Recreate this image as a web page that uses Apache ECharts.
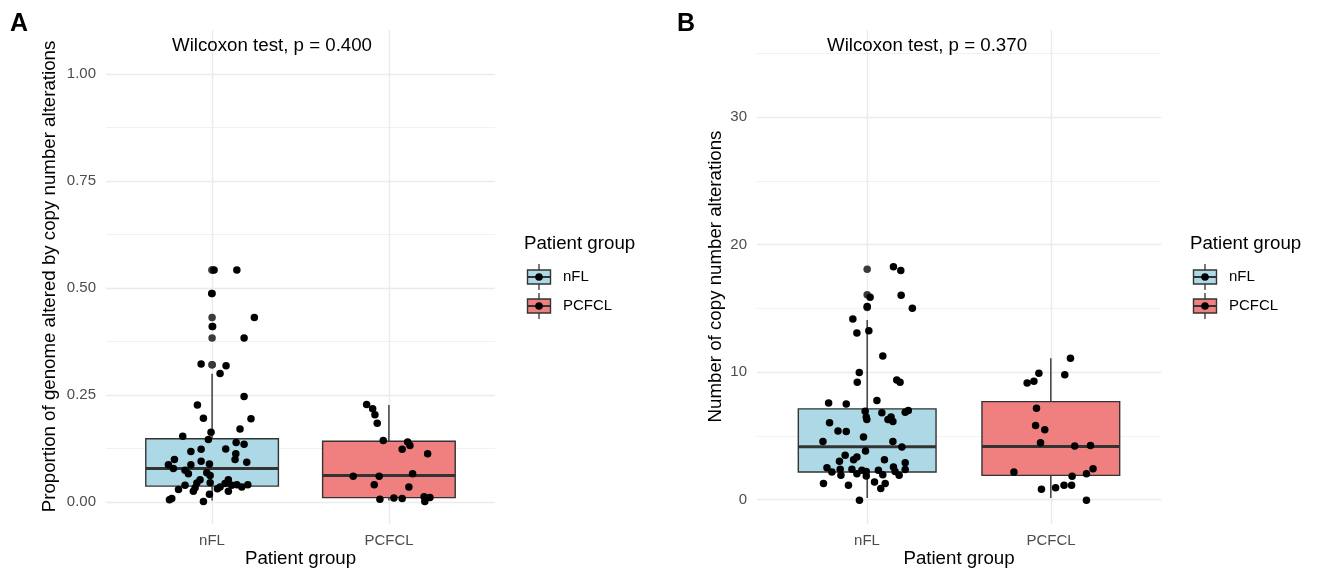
<!DOCTYPE html>
<html><head><meta charset="utf-8">
<script src="https://cdn.jsdelivr.net/npm/echarts@6/dist/echarts.min.js"></script>
<style>html,body{margin:0;padding:0;background:#fff}#c{width:1317px;height:573px}</style>
</head><body><div id="c"></div>
<script>
// ---------- data ----------
const categories = ['nFL', 'PCFCL'];
const groupColors = ['#ADD8E6', '#F08080'];

// Panel A: proportion of genome altered. Box stats: [lowWhisker, q1, median, q3, highWhisker]
const aNflBox = [0.0, 0.034, 0.075, 0.145, 0.297];
const aPcfclBox = [0.0, 0.007, 0.059, 0.139, 0.224];
const aNflOutliers = [0.54, 0.54, 0.485, 0.429, 0.408, 0.381, 0.318, 0.318];
const aPcfclOutliers = [];
const aNflJitter = [-0.166,-0.006,-0.021,0.158,0.136,0.181,0.077,-0.062,-0.120,0.134,0.130,0.196,-0.213,-0.062,-0.015,-0.120,-0.247,-0.219,-0.153,-0.134,-0.030,-0.011,-0.068,-0.086,-0.011,0.092,0.073,0.045,0.140,0.168,0.202,0.111,0.092,-0.153,-0.190,-0.106,-0.096,-0.015,-0.228,-0.241,-0.049,0.030,0.011,0.140,-0.002,0.239,0.003,0.181,-0.062,0.079,0.045,0.181,-0.083,-0.049,0.220];
const aNflY = [0.151,0.160,0.143,0.168,0.136,0.132,0.121,0.120,0.115,0.110,0.096,0.090,0.096,0.092,0.086,0.084,0.084,0.075,0.071,0.063,0.065,0.059,0.049,0.041,0.042,0.049,0.040,0.032,0.037,0.032,0.037,0.036,0.022,0.036,0.026,0.022,0.030,0.015,0.005,0.002,-0.002,0.028,0.540,0.540,0.485,0.429,0.408,0.381,0.320,0.316,0.298,0.244,0.224,0.193,0.192];
const aPcfclJitter = [-0.126,-0.092,-0.079,-0.066,-0.032,0.106,0.119,0.075,0.219,-0.202,-0.055,0.134,-0.083,0.113,-0.051,0.028,0.075,0.199,0.203,0.232];
const aPcfclY = [0.225,0.215,0.201,0.181,0.141,0.137,0.129,0.120,0.110,0.057,0.057,0.063,0.037,0.032,0.003,0.006,0.005,0.009,-0.002,0.007];
const aYTicks = [0, 0.25, 0.5, 0.75, 1.0];

// Panel B: number of copy number alterations
const bNflBox = [0, 2.05, 4.04, 7.02, 14.0];
const bPcfclBox = [0, 1.79, 4.06, 7.59, 11.0];
const bNflOutliers = [18, 16, 15];
const bPcfclOutliers = [];
const bNflJitter = [0.143,0.183,0.016,0.185,0.0,0.246,-0.078,-0.056,0.009,0.085,-0.043,-0.054,0.161,0.179,0.053,-0.210,-0.114,-0.011,-0.005,-0.002,0.080,0.113,0.140,0.130,0.207,0.224,-0.205,-0.159,-0.114,-0.241,-0.020,0.140,0.189,-0.009,-0.120,-0.074,-0.056,-0.151,0.094,0.207,-0.219,-0.192,-0.147,-0.143,-0.083,-0.056,-0.029,-0.005,-0.005,0.061,0.085,0.143,0.152,0.174,0.207,-0.238,-0.102,0.040,0.098,0.074,-0.042];
const bNflY = [18.2,17.9,15.8,15.96,15.07,14.94,14.08,12.98,13.16,11.18,9.87,9.11,9.29,9.11,7.67,7.47,7.41,6.84,6.37,6.18,6.71,6.18,6.03,6.37,6.76,6.89,5.92,5.27,5.24,4.46,4.80,4.46,4.01,3.70,3.36,3.02,3.23,2.89,3.02,2.78,2.39,2.05,2.26,1.79,2.26,1.92,2.18,2.10,1.74,2.18,1.84,2.45,2.10,1.79,2.24,1.14,1.00,1.27,1.14,0.75,-0.17];
const bPcfclJitter = [0.107,-0.065,0.076,-0.092,-0.129,-0.078,-0.083,-0.033,-0.056,0.130,0.216,-0.201,0.230,0.194,0.116,-0.051,0.026,0.072,0.113,0.194];
const bPcfclY = [11.0,9.82,9.71,9.19,9.06,7.07,5.71,5.37,4.35,4.09,4.14,2.05,2.31,1.92,1.71,0.69,0.82,1.00,1.00,-0.17];
const bYTicks = [0, 10, 20, 30];
const bYMinorTicks = [5, 15, 25, 35];

const testLabels = ['Wilcoxon test, p = 0.400', 'Wilcoxon test, p = 0.370'];
const testLabelPos = [[1.339, 1.065], [1.326, 35.57]];
const yTitles = ['Proportion of genome altered by copy number alterations', 'Number of copy number alterations'];
const xTitle = 'Patient group';
const legendTitle = 'Patient group';
const panelTags = ['A', 'B'];

// ---------- chart ----------
const FONT = 'Liberation Sans';
const GRID_COL = '#EBEBEB';
const BOX_LINE = '#333333';

function boxSeries(xi, yi, boxes) {
  return {
    type: 'custom', xAxisIndex: xi, yAxisIndex: yi, z: 2, silent: true,
    data: boxes.map((b, i) => [i + 1].concat(b)),
    renderItem: function (params, api) {
      const x = api.value(0);
      const lo = api.coord([x, api.value(1)]);
      const q1 = api.coord([x, api.value(2)]);
      const med = api.coord([x, api.value(3)]);
      const q3 = api.coord([x, api.value(4)]);
      const hi = api.coord([x, api.value(5)]);
      const l = api.coord([x - 0.375, api.value(2)])[0];
      const r = api.coord([x + 0.375, api.value(2)])[0];
      const ls = { stroke: BOX_LINE, lineWidth: 1.4 };
      return {
        type: 'group',
        children: [
          { type: 'line', shape: { x1: q3[0], y1: q3[1], x2: hi[0], y2: hi[1] }, style: ls },
          { type: 'line', shape: { x1: q1[0], y1: q1[1], x2: lo[0], y2: lo[1] }, style: ls },
          { type: 'rect', shape: { x: l, y: q3[1], width: r - l, height: q1[1] - q3[1] },
            style: { fill: groupColors[params.dataIndex], stroke: BOX_LINE, lineWidth: 1.4 } },
          { type: 'line', shape: { x1: l, y1: med[1], x2: r, y2: med[1] }, style: { stroke: BOX_LINE, lineWidth: 3 } }
        ]
      };
    }
  };
}

function outlierSeries(xi, yi, outs) {
  const d = [];
  outs.forEach((o, g) => o.forEach(v => d.push([g + 1, v])));
  return { type: 'scatter', xAxisIndex: xi, yAxisIndex: yi, z: 3, silent: true,
    symbolSize: 7.5, itemStyle: { color: '#3a3a3a', opacity: 1 }, data: d };
}

function jitterSeries(xi, yi, jit, ys) {
  const d = [];
  jit.forEach((arr, g) => arr.forEach((j, k) => d.push([g + 1 + j, ys[g][k]])));
  return { type: 'scatter', xAxisIndex: xi, yAxisIndex: yi, z: 4, silent: true,
    symbolSize: 7.5, itemStyle: { color: '#000000', opacity: 1 }, data: d };
}

function labelSeries(xi, yi, k) {
  return { type: 'scatter', xAxisIndex: xi, yAxisIndex: yi, z: 5, silent: true,
    symbolSize: 1, itemStyle: { color: 'rgba(0,0,0,0)', opacity: 1 },
    label: { show: true, position: 'inside', formatter: p => p.name, color: '#000', fontSize: 18.7, fontFamily: FONT },
    data: [{ name: testLabels[k], value: testLabelPos[k] }] };
}

const hidden = { show: false };
function mainX(gi) {
  return { type: 'value', gridIndex: gi, min: 0.4, max: 2.6, name: xTitle, nameLocation: 'middle', nameGap: 26,
    nameTextStyle: { fontSize: 18.7, color: '#000', fontFamily: FONT },
    axisLine: hidden, axisTick: hidden, axisLabel: hidden, splitLine: hidden };
}
function catX(gi) {
  return { type: 'category', gridIndex: gi, data: categories, boundaryGap: false,
    axisLine: hidden, axisTick: hidden,
    axisLabel: { color: '#4D4D4D', fontSize: 15, margin: 9, fontFamily: FONT },
    splitLine: { show: true, lineStyle: { color: GRID_COL, width: 1.4 } } };
}
function mainY(gi, min, max, k, gap) {
  return { type: 'value', gridIndex: gi, min: min, max: max, name: yTitles[k], nameLocation: 'middle', nameGap: gap,
    nameTextStyle: { fontSize: 18.7, color: '#000', fontFamily: FONT },
    axisLine: hidden, axisTick: hidden, axisLabel: hidden, splitLine: hidden };
}
function tickY(gi, min, max, interval, ticks, fmt, minor) {
  const ax = { type: 'value', gridIndex: gi, min: min, max: max, interval: interval,
    axisLine: hidden, axisTick: hidden,
    axisLabel: { color: '#4D4D4D', fontSize: 15, margin: 10, fontFamily: FONT,
      formatter: v => (ticks.some(t => Math.abs(t - v) < 1e-9) ? fmt(v) : '') },
    splitLine: { show: true, lineStyle: { color: GRID_COL, width: 1.4 } } };
  if (minor) {
    ax.minorTick = { show: false, splitNumber: 2 };
    ax.minorSplitLine = { show: true, lineStyle: { color: GRID_COL, width: 0.7 } };
  }
  return ax;
}
function minorY(gi, min, max, interval) {
  return { type: 'value', gridIndex: gi, min: min, max: max, interval: interval,
    axisLine: hidden, axisTick: hidden, axisLabel: hidden,
    splitLine: { show: true, lineStyle: { color: GRID_COL, width: 0.7 } } };
}

const graphics = [];
panelTags.forEach((t, k) => {
  graphics.push({ type: 'text', left: k === 0 ? 10 : 677, top: 12,
    style: { text: t, fontSize: 25, fontWeight: 'bold', fontFamily: FONT, fill: '#000' } });
});
[0, 666].forEach(ox => {
  graphics.push({ type: 'text', x: 524 + ox, y: 244,
    style: { text: legendTitle, fontSize: 18.7, fontFamily: FONT, fill: '#000', verticalAlign: 'middle', align: 'left' } });
  categories.forEach((c, i) => {
    const cy = 277 + 29 * i;
    const cx = 539 + ox;
    graphics.push({ type: 'line', shape: { x1: cx, y1: cy - 13, x2: cx, y2: cy + 13 }, style: { stroke: BOX_LINE, lineWidth: 1.3 } });
    graphics.push({ type: 'rect', shape: { x: cx - 11.5, y: cy - 7, width: 23, height: 14 },
      style: { fill: groupColors[i], stroke: BOX_LINE, lineWidth: 1.4 } });
    graphics.push({ type: 'line', shape: { x1: cx - 11.5, y1: cy, x2: cx + 11.5, y2: cy }, style: { stroke: BOX_LINE, lineWidth: 2 } });
    graphics.push({ type: 'circle', shape: { cx: cx, cy: cy, r: 3.8 }, style: { fill: '#000' } });
    graphics.push({ type: 'text', x: 563 + ox, y: cy,
      style: { text: c, fontSize: 15, fontFamily: FONT, fill: '#000', verticalAlign: 'middle', align: 'left' } });
  });
});

const option = {
  animation: false,
  backgroundColor: '#fff',
  textStyle: { fontFamily: FONT },
  grid: [
    { left: 106, top: 30, width: 389, height: 494 },
    { left: 212, top: 30, width: 177, height: 494 },
    { left: 106, top: 74, width: 389, height: 428 },
    { left: 757, top: 30, width: 404, height: 494 },
    { left: 867, top: 30, width: 184, height: 494 },
    { left: 757, top: 117, width: 404, height: 382.5 },
    { left: 757, top: 53.25, width: 404, height: 382.5 }
  ],
  xAxis: [
    mainX(0), catX(1), { type: 'value', gridIndex: 2, show: false, min: 0, max: 1 },
    mainX(3), catX(4), { type: 'value', gridIndex: 5, show: false, min: 0, max: 1 },
    { type: 'value', gridIndex: 6, show: false, min: 0, max: 1 }
  ],
  yAxis: [
    mainY(0, -0.0525, 1.1025, 0, 47),
    { type: 'value', gridIndex: 1, show: false, min: 0, max: 1 },
    tickY(2, 0, 1, 0.25, aYTicks, v => v.toFixed(2), true),
    mainY(3, -1.96, 36.82, 1, 32),
    { type: 'value', gridIndex: 4, show: false, min: 0, max: 1 },
    tickY(5, 0, 30, 10, bYTicks, v => String(v), false),
    minorY(6, bYMinorTicks[0], bYMinorTicks[bYMinorTicks.length - 1], 10)
  ],
  series: [
    boxSeries(0, 0, [aNflBox, aPcfclBox]),
    outlierSeries(0, 0, [aNflOutliers, aPcfclOutliers]),
    jitterSeries(0, 0, [aNflJitter, aPcfclJitter], [aNflY, aPcfclY]),
    labelSeries(0, 0, 0),
    boxSeries(3, 3, [bNflBox, bPcfclBox]),
    outlierSeries(3, 3, [bNflOutliers, bPcfclOutliers]),
    jitterSeries(3, 3, [bNflJitter, bPcfclJitter], [bNflY, bPcfclY]),
    labelSeries(3, 3, 1)
  ],
  graphic: graphics
};
const chart = echarts.init(document.getElementById('c'), null, { renderer: 'canvas' });
chart.setOption(option);
</script></body></html>
